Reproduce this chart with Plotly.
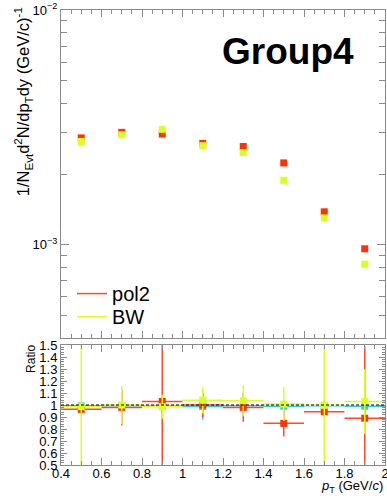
import plotly.graph_objects as go

# pT bin centres and half widths (GeV/c)
pt = [0.5, 0.7, 0.9, 1.1, 1.3, 1.5, 1.7, 1.9]
pt_halfwidth = [0.1, 0.1, 0.1, 0.1, 0.1, 0.1, 0.1, 0.1]

# corrected yields from the two fit methods
yield_pol2 = [2.85e-3, 3.01e-3, 2.96e-3, 2.70e-3, 2.62e-3, 2.23e-3, 1.38e-3, 9.6e-4]
yield_bw = [2.75e-3, 2.94e-3, 3.10e-3, 2.64e-3, 2.47e-3, 1.88e-3, 1.30e-3, 8.26e-4]

# ratios to the reference yield
ratio_ref = [0.993, 0.994, 0.992, 0.987, 0.993, 0.990, 0.994, 0.990]
ratio_ref_err = [0.03, 0.04, 0.05, 0.11, 0.04, 0.05, 0.04, 0.05]
ratio_pol2 = [0.964, 0.980, 1.030, 1.000, 0.980, 0.847, 0.944, 0.890]
ratio_pol2_err = [0.04, 0.15, 0.60, 0.10, 0.12, 0.11, 0.04, 0.60]
ratio_bw = [0.986, 1.000, 0.986, 1.040, 1.036, 1.008, 0.997, 1.030]
ratio_bw_err = [0.60, 0.16, 0.10, 0.11, 0.13, 0.14, 0.60, 0.27]

# axis labels
log_tickvals = [1e-3, 1e-2]
log_ticktext = ["10<sup>−3</sup>", "10<sup>−2</sup>"]
log_minor = [5e-4, 6e-4, 7e-4, 8e-4, 9e-4,
             2e-3, 3e-3, 4e-3, 5e-3, 6e-3, 7e-3, 8e-3, 9e-3]
ratio_tickvals = [0.5, 0.6, 0.7, 0.8, 0.9, 1.0, 1.1, 1.2, 1.3, 1.4, 1.5]
ratio_ticktext = ["0.5", "0.6", "0.7", "0.8", "0.9", "1", "1.1", "1.2", "1.3", "1.4", "1.5"]
x_tickvals = [0.4, 0.6, 0.8, 1.0, 1.2, 1.4, 1.6, 1.8, 2.0]
x_ticktext = ["0.4", "0.6", "0.8", "1", "1.2", "1.4", "1.6", "1.8", "2"]

RED = "#ff3300"
RED_LINE = "#ff4a26"
YEL = "#dcff1e"
CYAN = "#33c8f0"
FRAME = "#8a8a8a"
FONT = "Liberation Sans, Arial, sans-serif"

fig = go.Figure()

# upper panel: yields
fig.add_trace(go.Scatter(
    x=pt, y=yield_pol2, mode="markers", xaxis="x", yaxis="y",
    marker=dict(symbol="square", size=7, color=RED), showlegend=False))
fig.add_trace(go.Scatter(
    x=pt, y=yield_bw, mode="markers", xaxis="x", yaxis="y",
    marker=dict(symbol="square", size=7, color=YEL), showlegend=False))

# legend entries (fit functions), one legend box each
fig.add_trace(go.Scatter(x=[None], y=[None], mode="lines", name="pol2",
                         line=dict(color=RED_LINE, width=1.5), xaxis="x", yaxis="y",
                         legend="legend"))
fig.add_trace(go.Scatter(x=[None], y=[None], mode="lines", name="BW",
                         line=dict(color=YEL, width=1.5), xaxis="x", yaxis="y",
                         legend="legend2"))

# lower panel: ratios
def ratio_trace(vals, errs, color, line_color):
    return go.Scatter(
        x=pt, y=vals, mode="markers", xaxis="x2", yaxis="y2", showlegend=False,
        marker=dict(symbol="square", size=7, color=color),
        error_x=dict(type="data", array=pt_halfwidth, color=line_color,
                     thickness=1.5, width=0),
        error_y=dict(type="data", array=errs, color=line_color,
                     thickness=1.5, width=0))

fig.add_trace(ratio_trace(ratio_ref, ratio_ref_err, CYAN, CYAN))
fig.add_trace(ratio_trace(ratio_pol2, ratio_pol2_err, RED, RED_LINE))
fig.add_trace(ratio_trace(ratio_bw, ratio_bw_err, YEL, YEL))

# unity line
fig.add_shape(type="line", xref="x2", yref="y2", x0=0.4, x1=2.0, y0=1, y1=1,
              line=dict(color="black", width=1, dash="3px,2px"))

axis_common = dict(
    showline=True, linecolor=FRAME, linewidth=1, mirror="allticks",
    ticks="inside", tickcolor=FRAME, showgrid=False, zeroline=False,
    tickfont=dict(family=FONT, size=13, color="black"))

legend_common = dict(xanchor="left", yanchor="top", bgcolor="rgba(0,0,0,0)",
                     font=dict(family=FONT, size=20), itemwidth=30)

fig.update_layout(
    width=387, height=501,
    margin=dict(l=61, r=2, t=10, b=36, autoexpand=False),
    paper_bgcolor="white", plot_bgcolor="white",
    font=dict(family=FONT, color="black"),
    xaxis=dict(domain=[0, 1], range=[0.4, 2.0], anchor="y",
               tickvals=x_tickvals, showticklabels=False, ticklen=7,
               minor=dict(ticks="inside", ticklen=4, dtick=0.05, tick0=0.4,
                          tickcolor=FRAME),
               **axis_common),
    yaxis=dict(domain=[0.2791, 1], type="log", range=[-3.398, -2], anchor="x",
               tickvals=log_tickvals, ticktext=log_ticktext, ticklen=8,
               minor=dict(ticks="inside", ticklen=6, tickvals=log_minor,
                          tickcolor=FRAME),
               **axis_common),
    xaxis2=dict(domain=[0, 1], range=[0.4, 2.0], anchor="y2",
                tickvals=x_tickvals, ticktext=x_ticktext, ticklen=7,
                ticklabelstandoff=-4, ticklabeloverflow="allow",
                minor=dict(ticks="inside", ticklen=4, dtick=0.05, tick0=0.4,
                           tickcolor=FRAME),
                **axis_common),
    yaxis2=dict(domain=[0, 0.2637], range=[0.5, 1.5], anchor="x2",
                tickvals=ratio_tickvals, ticktext=ratio_ticktext, ticklen=6,
                minor=dict(ticks="inside", ticklen=3, dtick=0.02, tick0=0.5,
                           tickcolor=FRAME),
                **axis_common),
    legend=dict(x=0.034, y=0.4196, **legend_common),
    legend2=dict(x=0.034, y=0.369, **legend_common),
    annotations=[
        dict(text="<b>Group4</b>", xref="paper", yref="paper", x=0.70, y=0.908,
             xanchor="center", yanchor="middle", showarrow=False,
             font=dict(family=FONT, size=37, color="black")),
        dict(text="1/N<sub>Evt</sub>d<sup>2</sup>N/dp<sub>T</sub>dy (GeV/c)<sup>-1</sup>",
             xref="paper", yref="paper", x=-0.115, y=1.011, textangle=-90,
             xanchor="center", yanchor="top", showarrow=False,
             font=dict(family=FONT, size=16.5, color="black")),
        dict(text="Ratio", xref="paper", yref="paper", x=-0.093, y=0.268,
             textangle=-90, xanchor="center", yanchor="top", showarrow=False,
             font=dict(family=FONT, size=12, color="black")),
        dict(text="<i>p</i><sub>T</sub> (GeV/<i>c</i>)", xref="paper", yref="paper",
             x=1.0, y=-0.048, xanchor="right", yanchor="middle", showarrow=False,
             font=dict(family=FONT, size=13, color="black")),
    ],
)

fig.write_html("out.html")
